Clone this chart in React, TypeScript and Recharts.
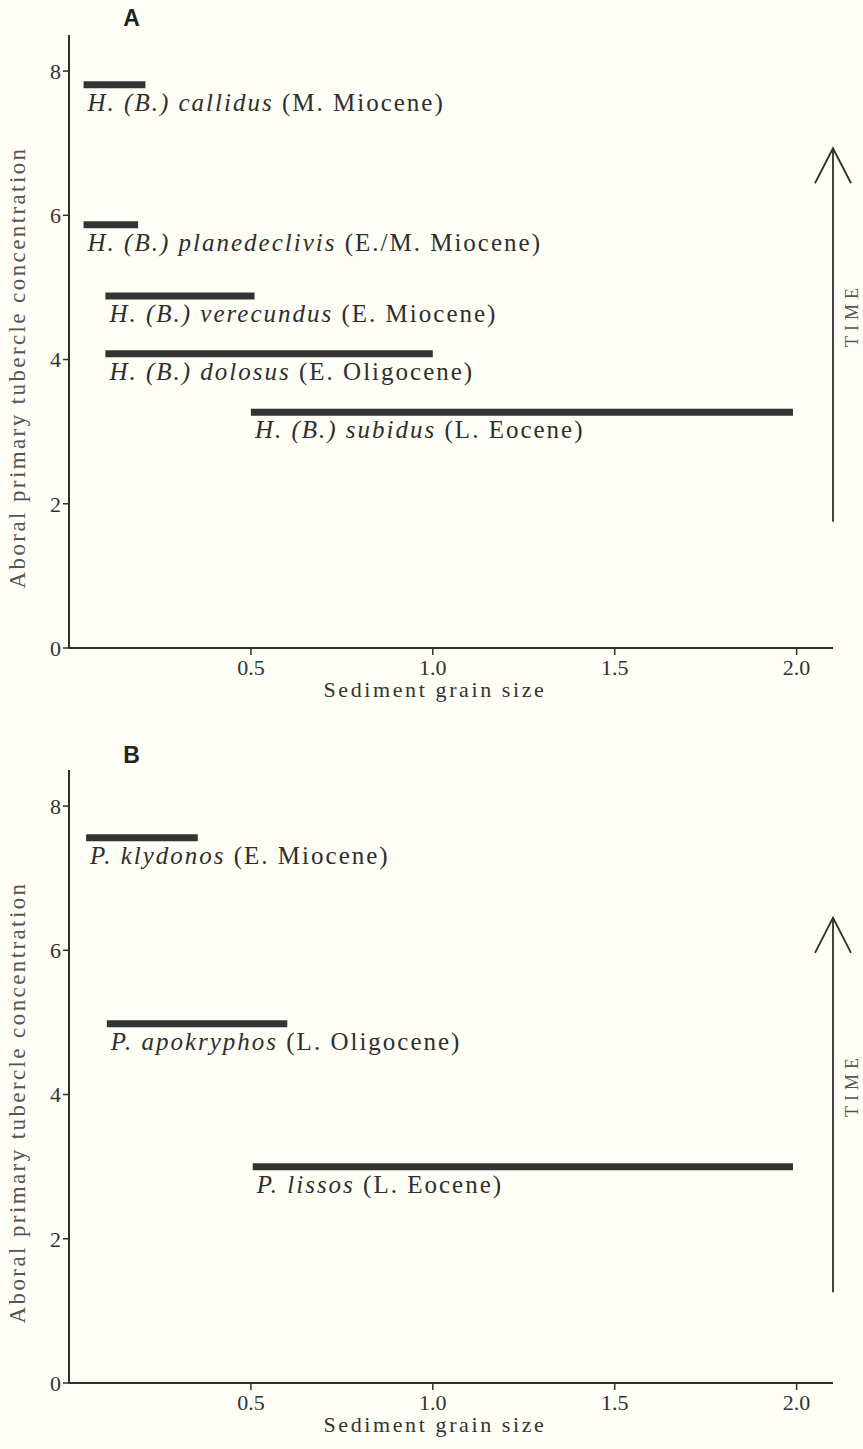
import { LineChart, Line, XAxis, YAxis, LabelList, ReferenceLine } from 'recharts';

// shared axes
const xTicks = [0.5, 1.0, 1.5, 2.0];
const yTicks = [0, 2, 4, 6, 8];

// panel A — Hesperocidaris (Brochopleurus)
const speciesA = [
  'H. (B.) callidus',
  'H. (B.) planedeclivis',
  'H. (B.) verecundus',
  'H. (B.) dolosus',
  'H. (B.) subidus',
];
const agesA = ['(M. Miocene)', '(E./M. Miocene)', '(E. Miocene)', '(E. Oligocene)', '(L. Eocene)'];
const grainFromA = [0.04, 0.04, 0.1, 0.1, 0.5];
const grainToA = [0.21, 0.19, 0.51, 1.0, 1.99];
const tubercleA = [7.81, 5.87, 4.88, 4.08, 3.27];
const timeSpanA = [1.75, 6.93];

// panel B
const speciesB = ['P. klydonos', 'P. apokryphos', 'P. lissos'];
const agesB = ['(E. Miocene)', '(L. Oligocene)', '(L. Eocene)'];
const grainFromB = [0.047, 0.104, 0.505];
const grainToB = [0.354, 0.6, 1.99];
const tubercleB = [7.56, 4.98, 3.0];
const timeSpanB = [1.26, 6.45];

const INK = '#2e2e2e';
const SERIF = '"Liberation Serif", "DejaVu Serif", serif';
const X_MAX = 2.1;

interface PanelProps {
  title: string;
  species: string[];
  ages: string[];
  from: number[];
  to: number[];
  level: number[];
  timeSpan: number[];
  top: number;
  height: number;
  bottomPad: number;
  titleY: number;
}

function SpeciesLabel(name: string, age: string) {
  return (props: any) => {
    if (props.index !== 0) return null;
    return (
      <text
        x={Number(props.x) + 4}
        y={Number(props.y) + 26}
        fontFamily={SERIF}
        fontSize={25}
        letterSpacing={2}
        fill={INK}
      >
        <tspan fontStyle="italic">{name}</tspan>
        <tspan> {age}</tspan>
      </text>
    );
  };
}

function TimeArrow(props: any) {
  const { x1, y1, x2, y2 } = props;
  const x = (x1 + x2) / 2;
  const yTop = Math.min(y1, y2);
  const yBot = Math.max(y1, y2);
  const mid = (yTop + yBot) / 2 - 20;
  return (
    <g>
      <line x1={x} y1={yBot} x2={x} y2={yTop} stroke={INK} strokeWidth={1.8} />
      <polyline
        points={`${x - 18},${yTop + 35} ${x},${yTop} ${x + 18},${yTop + 35}`}
        fill="none"
        stroke={INK}
        strokeWidth={1.8}
      />
      <text
        x={x + 19}
        y={mid}
        transform={`rotate(-90 ${x + 19} ${mid})`}
        textAnchor="middle"
        dominantBaseline="central"
        fontFamily={SERIF}
        fontSize={18}
        letterSpacing={5}
        fill="#555"
      >
        TIME
      </text>
    </g>
  );
}

function Panel({ title, species, ages, from, to, level, timeSpan, top, height, bottomPad, titleY }: PanelProps) {
  const plotTop = 35;
  const plotBottom = height - bottomPad - 50;
  const yLabelCenter = (plotTop + plotBottom) / 2 + 26;
  return (
    <div style={{ position: 'absolute', left: 0, top, width: 863, height }}>
      <div
        style={{
          position: 'absolute',
          left: 0,
          top: titleY - 14,
          width: 263,
          textAlign: 'center',
          fontFamily: '"Liberation Sans", Arial, sans-serif',
          fontWeight: 'bold',
          fontSize: 23,
          lineHeight: '28px',
          color: '#222',
        }}
      >
        {title}
      </div>
      <LineChart width={863} height={height} margin={{ top: plotTop, right: 30, bottom: bottomPad, left: 0 }}>
        <XAxis
          type="number"
          dataKey="x"
          domain={[0, X_MAX]}
          ticks={xTicks}
          allowDataOverflow
          tickFormatter={(v: number) => v.toFixed(1)}
          height={50}
          tickSize={7}
          tickMargin={4}
          axisLine={{ stroke: INK, strokeWidth: 2 }}
          tickLine={{ stroke: INK, strokeWidth: 1.5 }}
          tick={{ fontFamily: SERIF, fontSize: 22, fill: '#333' }}
          label={{
            content: (p: any) => {
              const vb = p.viewBox;
              return (
                <text
                  x={vb.x + vb.width / 2 - 16}
                  y={vb.y + 49}
                  textAnchor="middle"
                  fontFamily={SERIF}
                  fontSize={22}
                  letterSpacing={2.6}
                  fill="#333"
                >
                  Sediment grain size
                </text>
              );
            },
          }}
        />
        <YAxis
          type="number"
          domain={[0, 8.5]}
          ticks={yTicks}
          width={69}
          tickSize={6}
          tickMargin={2}
          axisLine={{ stroke: INK, strokeWidth: 2 }}
          tickLine={{ stroke: INK, strokeWidth: 1.5 }}
          tick={{ fontFamily: SERIF, fontSize: 22, fill: '#333' }}
          label={{
            content: () => (
              <text
                x={17}
                y={yLabelCenter}
                transform={`rotate(-90 17 ${yLabelCenter})`}
                textAnchor="middle"
                dominantBaseline="central"
                fontFamily={SERIF}
                fontSize={23}
                letterSpacing={2.4}
                fill="#555"
              >
                Aboral primary tubercle concentration
              </text>
            ),
          }}
        />
        {species.map((name, i) => (
          <Line
            key={name}
            data={[
              { x: from[i], y: level[i] },
              { x: to[i], y: level[i] },
            ]}
            dataKey="y"
            stroke="#333"
            strokeWidth={7}
            dot={false}
            activeDot={false}
            isAnimationActive={false}
          >
            <LabelList dataKey="y" content={SpeciesLabel(name, ages[i])} />
          </Line>
        ))}
        <ReferenceLine
          segment={[
            { x: X_MAX, y: timeSpan[0] },
            { x: X_MAX, y: timeSpan[1] },
          ]}
          ifOverflow="visible"
          shape={TimeArrow}
        />
      </LineChart>
    </div>
  );
}

export default function App() {
  return (
    <div style={{ position: 'absolute', left: 0, top: 0, width: 863, height: 1449, background: '#fefef6', overflow: 'hidden' }}>
      <Panel
        title="A"
        species={speciesA}
        ages={agesA}
        from={grainFromA}
        to={grainToA}
        level={tubercleA}
        timeSpan={timeSpanA}
        top={0}
        height={720}
        bottomPad={22}
        titleY={18}
      />
      <Panel
        title="B"
        species={speciesB}
        ages={agesB}
        from={grainFromB}
        to={grainToB}
        level={tubercleB}
        timeSpan={timeSpanB}
        top={735}
        height={714}
        bottomPad={16}
        titleY={20}
      />
    </div>
  );
}
